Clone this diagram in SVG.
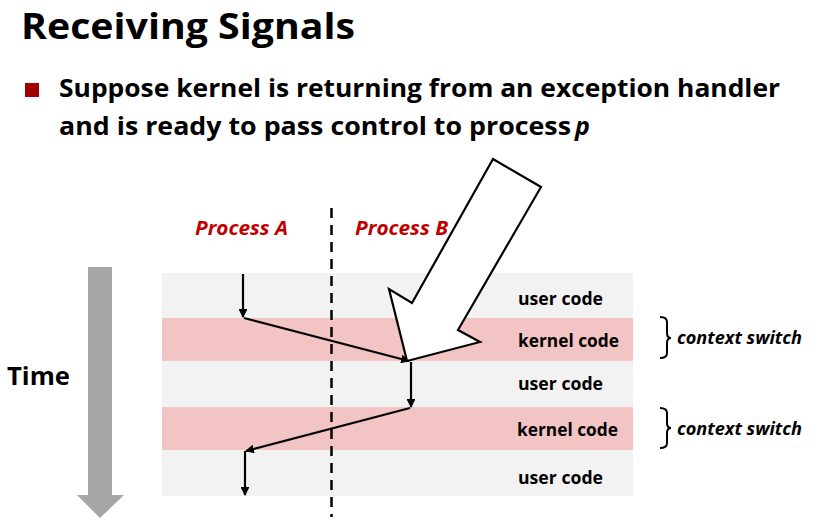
<svg xmlns="http://www.w3.org/2000/svg" width="824" height="523" viewBox="0 0 824 523">
<defs>
<style>
.b{font-family:"Open Sans","Liberation Sans",sans-serif;font-weight:bold;fill:#000}
.i{font-style:italic}
.red{fill:#c00000}
.row{font-size:17px}
.flow{stroke:#000;stroke-width:2.2;fill:none}
</style>
<marker id="ah" viewBox="0 0 10 10" refX="9" refY="5" markerWidth="4" markerHeight="4" orient="auto" markerUnits="strokeWidth">
<path d="M0,0 L10,5 L0,10 z" fill="#000"/>
</marker>
</defs>
<rect width="824" height="523" fill="#fff"/>
<g id="title">
<text class="b" x="21" y="38.5" font-size="36" textLength="334" lengthAdjust="spacingAndGlyphs">Receiving Signals</text>
</g>
<g id="bullet">
<rect x="25" y="83" width="14" height="14" fill="#a00000"/>
<text class="b" x="59" y="97" font-size="25" textLength="721" lengthAdjust="spacingAndGlyphs">Suppose kernel is returning from an exception handler</text>
<text class="b" x="59" y="135" font-size="25" textLength="512" lengthAdjust="spacingAndGlyphs">and is ready to pass control to process</text>
<text class="b i" x="575" y="135" font-size="25">p</text>
</g>
<g id="bands">
<rect x="162" y="273" width="471" height="45" fill="#f2f2f2"/>
<rect x="162" y="318" width="471" height="43" fill="#f2c4c4"/>
<rect x="162" y="361" width="471" height="46" fill="#f2f2f2"/>
<rect x="162" y="407" width="471" height="43" fill="#f2c4c4"/>
<rect x="162" y="450" width="471" height="46" fill="#f2f2f2"/>
</g>
<g id="divider">
<line x1="331.5" y1="208" x2="331.5" y2="517" stroke="#000" stroke-width="2.5" stroke-dasharray="10,7"/>
</g>
<g id="process-labels">
<text class="b i red" x="195" y="235" font-size="20" textLength="93" lengthAdjust="spacingAndGlyphs">Process A</text>
<text class="b i red" x="355" y="235" font-size="20" textLength="93" lengthAdjust="spacingAndGlyphs">Process B</text>
</g>
<g id="row-labels">
<text class="b row" x="518" y="305" textLength="85" lengthAdjust="spacingAndGlyphs">user code</text>
<text class="b row" x="518" y="347" textLength="101" lengthAdjust="spacingAndGlyphs">kernel code</text>
<text class="b row" x="518" y="390" textLength="85" lengthAdjust="spacingAndGlyphs">user code</text>
<text class="b row" x="517" y="436" textLength="101" lengthAdjust="spacingAndGlyphs">kernel code</text>
<text class="b row" x="518" y="484" textLength="85" lengthAdjust="spacingAndGlyphs">user code</text>
</g>
<g id="connectors">
<line class="flow" x1="243" y1="274" x2="243" y2="317" marker-end="url(#ah)"/>
<line class="flow" x1="244" y1="318" x2="409" y2="361" marker-end="url(#ah)"/>
<line class="flow" x1="411" y1="362" x2="411" y2="407" marker-end="url(#ah)"/>
<line class="flow" x1="410" y1="408" x2="246" y2="451" marker-end="url(#ah)"/>
<line class="flow" x1="245" y1="451" x2="245" y2="495" marker-end="url(#ah)"/>
</g>
<g id="signal-arrow">
<polygon points="493,159 541,187 458,330 480,342 407,361 389,289 412,303" fill="#fff" stroke="#000" stroke-width="2.2" stroke-linejoin="miter"/>
</g>
<g id="context-switch-1">
<path d="M660,317 Q667,317 667,322 L667,333 Q667,338 671,338 Q667,338 667,343 L667,353 Q667,358 660,358" fill="none" stroke="#000" stroke-width="2"/>
<text class="b i" x="677" y="344" font-size="17" textLength="125" lengthAdjust="spacingAndGlyphs">context switch</text>
</g>
<g id="context-switch-2">
<path d="M660,408 Q667,408 667,413 L667,423 Q667,428 671,428 Q667,428 667,433 L667,443 Q667,448 660,448" fill="none" stroke="#000" stroke-width="2"/>
<text class="b i" x="677" y="435" font-size="17" textLength="125" lengthAdjust="spacingAndGlyphs">context switch</text>
</g>
<g id="time">
<polygon points="88,267 112,267 112,495 124,495 100,518 77,495 88,495" fill="#a6a6a6"/>
<text class="b" x="7" y="385" font-size="25" textLength="63" lengthAdjust="spacingAndGlyphs">Time</text>
</g>
</svg>
